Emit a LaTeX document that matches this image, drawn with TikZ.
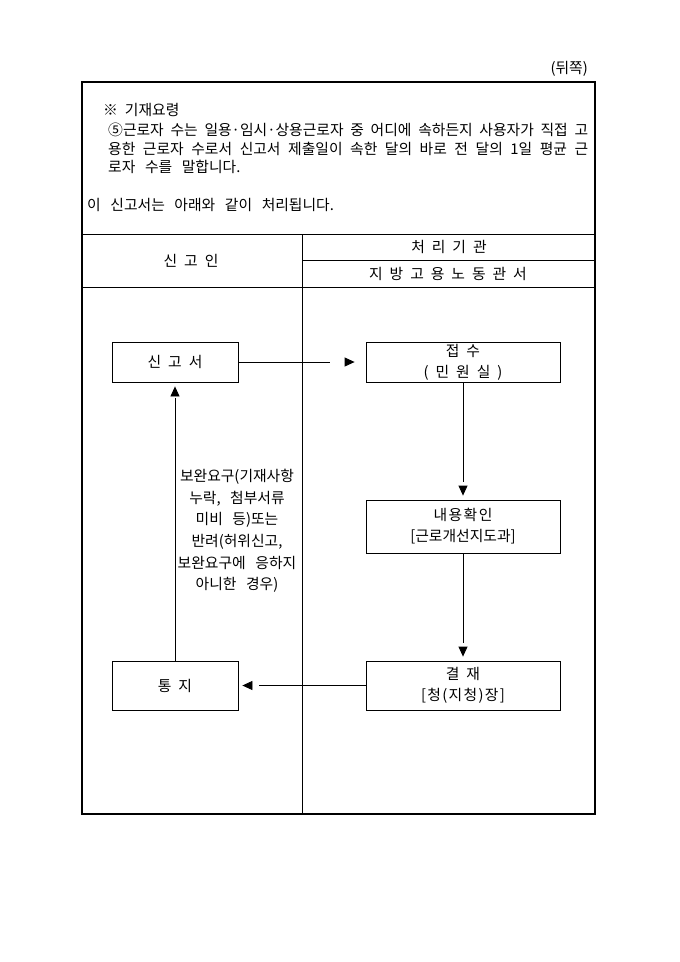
\documentclass[tikz,border=0pt]{standalone}
\usepackage{fontspec}
\setmainfont{Noto Sans CJK KR}[WordSpace=2.1]
\usetikzlibrary{arrows.meta,decorations.markings}
\newcommand\widespace{\spaceskip=9.6pt plus 4pt minus 3pt\relax}
\tikzset{
  txt/.style={inner sep=0pt, font=\fontsize{14.8}{19}\selectfont},
  body/.style={txt, font=\fontsize{14.8}{21.6}\selectfont\widespace},
  box/.style={draw, line width=0.8pt, align=center, inner sep=0pt, font=\fontsize{14.8}{21}\selectfont},
  flow/.style 2 args={draw, line width=0.8pt, shorten >=#1, postaction={decorate},
    decoration={markings, mark=at position -#2 with {\arrow{Triangle[length=10pt,width=9pt]}}}}
}
\begin{document}
\begin{tikzpicture}[x=1pt,y=-1pt]
    \useasboundingbox (0,0) rectangle (680,962);
    % frame and header
    \draw[line width=1.6pt] (82,82) rectangle (595,814);
    \draw[line width=0.8pt] (82,234) -- (595,234);
    \draw[line width=0.8pt] (302,260) -- (595,260);
    \draw[line width=0.8pt] (82,287) -- (595,287);
    \draw[line width=0.8pt] (302,234) -- (302,814);
    % notes
    \node[txt, anchor=east] (side) at (588,69) {(뒤쪽)};
    \node[txt, anchor=west] (note) at (103,110) {※ 기재요령};
    \node[body, anchor=west] (noteA) at (108,130) {\makebox[480pt][s]{⑤근로자 수는 일용·임시·상용근로자 중 어디에 속하든지 사용자가 직접 고}};
    \node[body, anchor=west] (noteB) at (108,149) {\makebox[480pt][s]{용한 근로자 수로서 신고서 제출일이 속한 달의 바로 전 달의 1일 평균 근}};
    \node[body, anchor=west] (noteC) at (108,167) {로자 수를 말합니다.};
    \node[body, anchor=west] (proc) at (87,205) {이 신고서는 아래와 같이 처리됩니다.};
    \node[txt] (applicant) at (191,261) {신 고 인};
    \node[txt] (agency) at (449,247) {처 리 기 관};
    \node[txt] (office) at (448,274) {지 방 고 용 노 동 관 서};
    % boxes
    \node[box, minimum width=126pt, minimum height=40pt] (report) at (175,362) {신 고 서};
    \node[box, minimum width=194pt, minimum height=40pt] (receipt) at (463,362) {접 수\\( 민 원 실 )};
    \node[box, minimum width=194pt, minimum height=53pt] (check) at (463,526.5) {\addfontfeature{LetterSpace=10}내용확인\\{}[근로개선지도과]};
    \node[box, minimum width=194pt, minimum height=49pt] (approve) at (463,685.5) {결 재\\{}\addfontfeature{LetterSpace=9}[청(지청)장]};
    \node[box, minimum width=126pt, minimum height=49pt] (notice) at (175,685.5) {통 지};
    \node[body, align=center] (reason) at (237,531)
      {보완요구(기재사항\\누락, 첨부서류\\미비 등)또는\\반려(허위신고,\\보완요구에 응하지\\아니한 경우)};
    % connectors
    \draw[flow={36pt}{11pt}] (report) -- (receipt);
    \draw[flow={18pt}{4pt}] (receipt) -- (check);
    \draw[flow={18pt}{4pt}] (check) -- (approve);
    \draw[flow={21pt}{4pt}] (approve) -- (notice);
    \draw[flow={16pt}{4pt}] (notice) -- (report);
\end{tikzpicture}
\end{document}
